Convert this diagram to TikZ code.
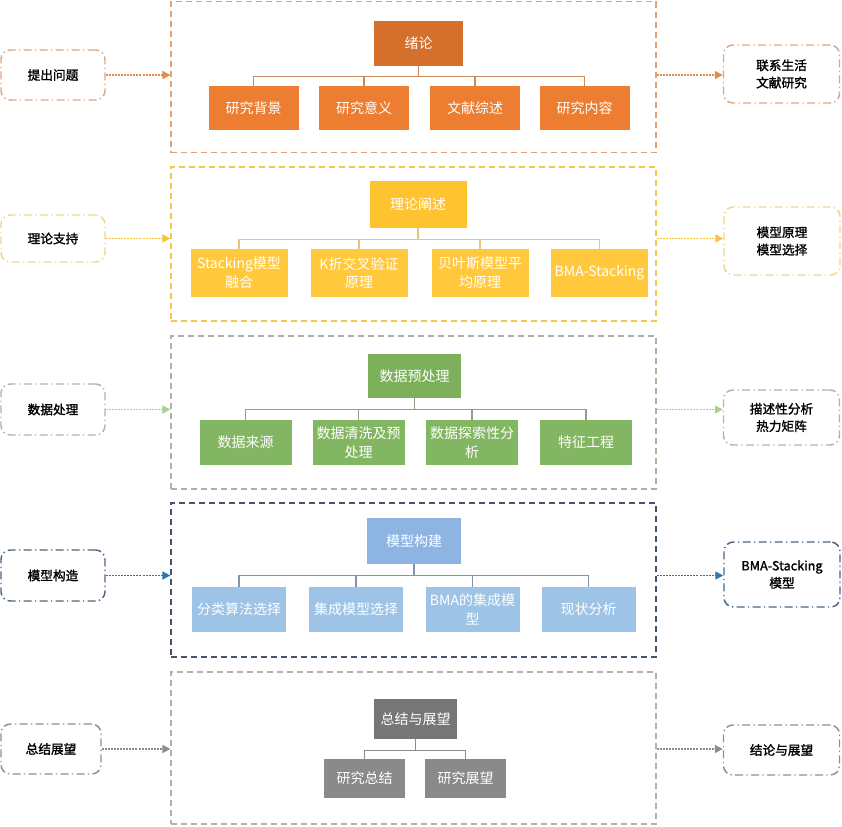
\documentclass[tikz,border=0pt]{standalone}
\usepackage{fontspec}
\newfontfamily\cjk{Noto Sans CJK SC}
\newfontfamily\cjkb[FakeBold=1.5]{Noto Sans CJK SC}
\usetikzlibrary{arrows.meta,calc}
\definecolor{orgT}{HTML}{D46F2C}
\definecolor{orgC}{HTML}{ED7D31}
\definecolor{orgF}{HTML}{E3A070}
\definecolor{orgB}{HTML}{C98A5E}
\definecolor{orgS}{HTML}{D8A888}
\definecolor{orgA}{HTML}{E58A4C}
\definecolor{ylwT}{HTML}{FFC330}
\definecolor{ylwC}{HTML}{FFC83D}
\definecolor{ylwF}{HTML}{F3C84C}
\definecolor{ylwB}{HTML}{E6C57A}
\definecolor{ylwS}{HTML}{F0D68A}
\definecolor{ylwA}{HTML}{F5C542}
\definecolor{grnT}{HTML}{7CB05A}
\definecolor{grnC}{HTML}{83B662}
\definecolor{grnF}{HTML}{A8B59E}
\definecolor{grnB}{HTML}{8E9F82}
\definecolor{grnS}{HTML}{A9B7A0}
\definecolor{grnA}{HTML}{A9D18E}
\definecolor{bluT}{HTML}{8DB4E2}
\definecolor{bluC}{HTML}{9DC3E6}
\definecolor{bluF}{HTML}{44546A}
\definecolor{bluB}{HTML}{7F95B0}
\definecolor{bluS}{HTML}{4A6584}
\definecolor{bluA}{HTML}{2E75B6}
\definecolor{gryT}{HTML}{767676}
\definecolor{gryC}{HTML}{8A8A8A}
\definecolor{gryF}{HTML}{B0B0B0}
\definecolor{gryB}{HTML}{8C8C8C}
\definecolor{gryS}{HTML}{8F8F8F}
\definecolor{gryA}{HTML}{8C8C8C}
\newcommand{\px}{0.75pt}

\begin{document}
\begin{tikzpicture}[
  x=\px, y=-\px,
  font=\cjk\fontsize{10.5}{14}\selectfont,
  sz/.style n args = {2}{minimum width=#1*\px, minimum height=#2*\px},
  box/.style   = {rectangle, align=center, inner sep=1pt, text=white},
  frame/.style = {rectangle, dash pattern=on 4.5pt off 3pt, line width=.9pt},
  aside/.style = {rectangle, rounded corners=7pt, align=center, text=black,
                  line width=1.1pt, font=\cjkb\fontsize{9.5}{13}\selectfont,
                  dash pattern=on 6pt off 2.5pt on 1pt off 2.5pt},
  bus/.style   = {line width=.8pt},
  arr/.style   = {-{Triangle[length=6pt, width=6pt]}, line width=1.2pt,
                  dash pattern=on 1.5pt off .8pt},
]
\useasboundingbox (0,0) rectangle (842,826);

% ── 绪论 ────────────────────────────────────────────────────────────────
\node[frame, draw=orgF, sz={485}{151}] (sec1) at (413.5,77) {};
\node[box, fill=orgT, sz={89}{45}] (t1) at (418.5,43.5) {绪论};
\node[box, fill=orgC, sz={90}{44}] (c11) at (253.5,108) {研究背景};
\node[box, fill=orgC, sz={90}{44}] (c12) at (364,108) {研究意义};
\node[box, fill=orgC, sz={90}{44}] (c13) at (475,108) {文献综述};
\node[box, fill=orgC, sz={90}{44}] (c14) at (584.5,108) {研究内容};
\node[aside, draw=orgS, sz={104}{50}] (l1) at (53,75) {提出问题};
\node[aside, draw=orgS, sz={116}{58}] (r1) at (781.5,74) {联系生活\\文献研究};

\draw[bus, draw=orgB] (t1.south) -- ++(0,10) -| (c11.north);
\draw[bus, draw=orgB] (t1.south) -- ++(0,10) -| (c12.north);
\draw[bus, draw=orgB] (t1.south) -- ++(0,10) -| (c13.north);
\draw[bus, draw=orgB] (t1.south) -- ++(0,10) -| (c14.north);
\draw[arr, draw=orgA] (l1.east) -- (l1.east -| sec1.west);
\draw[arr, draw=orgA] (l1.east -| sec1.east) -- (r1.west |- l1.east);

% ── 理论阐述 ────────────────────────────────────────────────────────────
\node[frame, draw=ylwF, sz={485}{154}] (sec2) at (413.5,244) {};
\node[box, fill=ylwT, sz={97}{47}] (t2) at (418,204.5) {理论阐述};
\node[box, fill=ylwC, sz={97}{48}] (c21) at (239,273) {Stacking模型\\融合};
\node[box, fill=ylwC, sz={97}{48}] (c22) at (359,273) {K折交叉验证\\原理};
\node[box, fill=ylwC, sz={97}{48}] (c23) at (480,273) {贝叶斯模型平\\均原理};
\node[box, fill=ylwC, sz={97}{48}] (c24) at (599.5,273) {BMA-Stacking};
\node[aside, draw=ylwS, sz={104}{47}] (l2) at (53,238.5) {理论支持};
\node[aside, draw=ylwS, sz={116}{68}] (r2) at (782,241) {模型原理\\模型选择};

\draw[bus, draw=ylwB] (t2.south) -- ++(0,11) -| (c21.north);
\draw[bus, draw=ylwB] (t2.south) -- ++(0,11) -| (c22.north);
\draw[bus, draw=ylwB] (t2.south) -- ++(0,11) -| (c23.north);
\draw[bus, draw=ylwB] (t2.south) -- ++(0,11) -| (c24.north);
\draw[arr, draw=ylwA] (l2.east) -- (l2.east -| sec2.west);
\draw[arr, draw=ylwA] (l2.east -| sec2.east) -- (r2.west |- l2.east);

% ── 数据预处理 ──────────────────────────────────────────────────────────
\node[frame, draw=grnF, sz={485}{153}] (sec3) at (413.5,412.5) {};
\node[box, fill=grnT, sz={93}{44}] (t3) at (414.5,376) {数据预处理};
\node[box, fill=grnC, sz={92}{45}] (c31) at (245.5,442.5) {数据来源};
\node[box, fill=grnC, sz={92}{45}] (c32) at (358.5,442.5) {数据清洗及预\\处理};
\node[box, fill=grnC, sz={92}{45}] (c33) at (472,442.5) {数据探索性分\\析};
\node[box, fill=grnC, sz={92}{45}] (c34) at (586,442.5) {特征工程};
\node[aside, draw=grnS, sz={104}{51}] (l3) at (53,409.5) {数据处理};
\node[aside, draw=grnS, sz={116}{55}] (r3) at (781.5,417.5) {描述性分析\\热力矩阵};

\draw[bus, draw=grnB] (t3.south) -- ++(0,11) -| (c31.north);
\draw[bus, draw=grnB] (t3.south) -- ++(0,11) -| (c32.north);
\draw[bus, draw=grnB] (t3.south) -- ++(0,11) -| (c33.north);
\draw[bus, draw=grnB] (t3.south) -- ++(0,11) -| (c34.north);
\draw[arr, draw=grnA] (l3.east) -- (l3.east -| sec3.west);
\draw[arr, draw=grnA] (l3.east -| sec3.east) -- (r3.west |- l3.east);

% ── 模型构建 ────────────────────────────────────────────────────────────
\node[frame, draw=bluF, sz={485}{154}] (sec4) at (413.5,580) {};
\node[box, fill=bluT, sz={94}{46}] (t4) at (414,541) {模型构建};
\node[box, fill=bluC, sz={94}{45}] (c41) at (239,609.5) {分类算法选择};
\node[box, fill=bluC, sz={94}{45}] (c42) at (356,609.5) {集成模型选择};
\node[box, fill=bluC, sz={94}{45}] (c43) at (472.5,609.5) {BMA的集成模\\型};
\node[box, fill=bluC, sz={94}{45}] (c44) at (588.5,609.5) {现状分析};
\node[aside, draw=bluS, sz={104}{51}] (l4) at (53,575.5) {模型构造};
\node[aside, draw=bluS, sz={116}{65}] (r4) at (782,574.5) {BMA-Stacking\\模型};

\draw[bus, draw=bluB] (t4.south) -- ++(0,11) -| (c41.north);
\draw[bus, draw=bluB] (t4.south) -- ++(0,11) -| (c42.north);
\draw[bus, draw=bluB] (t4.south) -- ++(0,11) -| (c43.north);
\draw[bus, draw=bluB] (t4.south) -- ++(0,11) -| (c44.north);
\draw[arr, draw=bluA] (l4.east) -- (l4.east -| sec4.west);
\draw[arr, draw=bluA] (l4.east -| sec4.east) -- (r4.west |- l4.east);

% ── 总结与展望 ──────────────────────────────────────────────────────────
\node[frame, draw=gryF, sz={485}{152}] (sec5) at (413.5,748) {};
\node[box, fill=gryT, sz={83}{40}] (t5) at (415.5,719) {总结与展望};
\node[box, fill=gryC, sz={81}{39}] (c51) at (364.5,778.5) {研究总结};
\node[box, fill=gryC, sz={81}{39}] (c52) at (465.5,778.5) {研究展望};
\node[aside, draw=gryS, sz={100}{50}] (l5) at (51,749) {总结展望};
\node[aside, draw=gryS, sz={116}{50}] (r5) at (781.5,750) {结论与展望};

\draw[bus, draw=gryB] (t5.south) -- ++(0,11) -| (c51.north);
\draw[bus, draw=gryB] (t5.south) -- ++(0,11) -| (c52.north);
\draw[arr, draw=gryA] (l5.east) -- (l5.east -| sec5.west);
\draw[arr, draw=gryA] (l5.east -| sec5.east) -- (r5.west |- l5.east);
\end{tikzpicture}
\end{document}
